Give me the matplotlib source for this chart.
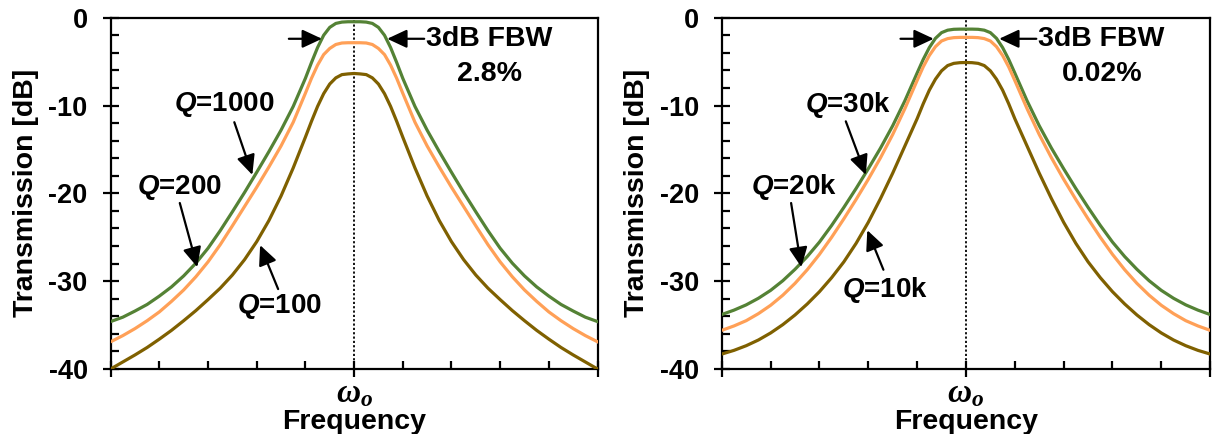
"""
Filter transmission for different resonator Q values.
"""
import matplotlib
matplotlib.use('Agg')
import matplotlib.pyplot as plt
from matplotlib.ticker import MultipleLocator

plt.rcParams['font.family'] = 'Liberation Sans'
plt.rcParams['font.weight'] = 'bold'
plt.rcParams['axes.labelweight'] = 'bold'
plt.rcParams['axes.unicode_minus'] = False
plt.rcParams['mathtext.fontset'] = 'custom'
plt.rcParams['mathtext.it'] = 'Liberation Serif:italic:bold'
plt.rcParams['mathtext.rm'] = 'Liberation Serif:bold'
plt.rcParams['mathtext.bfit'] = 'Liberation Sans:italic:bold'

# frequency offset from centre, in tick units (centre = omega_o)
freq = [-5, -4.75, -4.5, -4.25, -4, -3.75, -3.5, -3.25, -3, -2.75, -2.5,
        -2.25, -2, -1.75, -1.5, -1.25, -1, -0.875, -0.75, -0.625, -0.5,
        -0.375, -0.25, -0.125, 0, 0.125, 0.25, 0.375, 0.5, 0.625, 0.75,
        0.875, 1, 1.25, 1.5, 1.75, 2, 2.25, 2.5, 2.75, 3, 3.25, 3.5, 3.75,
        4, 4.25, 4.5, 4.75, 5]

# left panel, 3dB FBW 2.8 %
left_q1000 = [-34.6, -34.1, -33.4, -32.65, -31.7, -30.65, -29.4, -27.95,
              -26.25, -24.25, -22.1, -19.9, -17.6, -15.25, -12.8, -10.1,
              -6.9, -5.1, -3.4, -2.0, -1.1, -0.65, -0.5, -0.46, -0.46,
              -0.46, -0.5, -0.65, -1.1, -2.0, -3.4, -5.1, -6.9, -10.1,
              -12.8, -15.25, -17.6, -19.9, -22.1, -24.25, -26.25, -27.95,
              -29.4, -30.65, -31.7, -32.65, -33.4, -34.1, -34.6]
left_q200 = [-36.9, -36.2, -35.4, -34.5, -33.5, -32.3, -31.0, -29.5, -27.8,
             -25.85, -23.7, -21.5, -19.3, -17.0, -14.6, -11.9, -8.6, -6.9,
             -5.4, -4.2, -3.5, -3.05, -2.88, -2.85, -2.85, -2.85, -2.88,
             -3.05, -3.5, -4.2, -5.4, -6.9, -8.6, -11.9, -14.6, -17.0,
             -19.3, -21.5, -23.7, -25.85, -27.8, -29.5, -31.0, -32.3,
             -33.5, -34.5, -35.4, -36.2, -36.9]
left_q100 = [-40.0, -39.2, -38.4, -37.55, -36.6, -35.6, -34.5, -33.35,
             -32.1, -30.8, -29.3, -27.55, -25.5, -23.1, -20.3, -17.1, -13.6,
             -11.8, -10.1, -8.65, -7.55, -6.85, -6.48, -6.4, -6.35, -6.4,
             -6.48, -6.85, -7.55, -8.65, -10.1, -11.8, -13.6, -17.1, -20.3,
             -23.1, -25.5, -27.55, -29.3, -30.8, -32.1, -33.35, -34.5,
             -35.6, -36.6, -37.55, -38.4, -39.2, -40.0]

# right panel, 3dB FBW 0.02 %
right_q30k = [-33.8, -33.3, -32.7, -31.95, -31.05, -29.95, -28.65, -27.2,
              -25.55, -23.65, -21.6, -19.45, -17.2, -14.85, -12.3, -9.45,
              -6.3, -4.75, -3.4, -2.35, -1.7, -1.42, -1.32, -1.3, -1.3,
              -1.3, -1.32, -1.42, -1.7, -2.35, -3.4, -4.75, -6.3, -9.45,
              -12.3, -14.85, -17.2, -19.45, -21.6, -23.65, -25.55, -27.2,
              -28.65, -29.95, -31.05, -31.95, -32.7, -33.3, -33.8]
right_q20k = [-35.6, -35.1, -34.5, -33.7, -32.75, -31.6, -30.25, -28.7,
              -26.95, -25.0, -22.9, -20.7, -18.4, -15.95, -13.3, -10.35,
              -7.15, -5.6, -4.3, -3.3, -2.65, -2.38, -2.27, -2.24, -2.24,
              -2.24, -2.27, -2.38, -2.65, -3.3, -4.3, -5.6, -7.15, -10.35,
              -13.3, -15.95, -18.4, -20.7, -22.9, -25.0, -26.95, -28.7,
              -30.25, -31.6, -32.75, -33.7, -34.5, -35.1, -35.6]
right_q10k = [-38.3, -37.88, -37.35, -36.7, -35.9, -34.95, -33.85, -32.6,
              -31.2, -29.6, -27.8, -25.7, -23.3, -20.6, -17.7, -14.6, -11.5,
              -9.8, -8.25, -7.0, -6.05, -5.45, -5.2, -5.12, -5.1, -5.12,
              -5.2, -5.45, -6.05, -7.0, -8.25, -9.8, -11.5, -14.6, -17.7,
              -20.6, -23.3, -25.7, -27.8, -29.6, -31.2, -32.6, -33.85,
              -34.95, -35.9, -36.7, -37.35, -37.88, -38.3]

left_labels = ['1000', '200', '100']
right_labels = ['30k', '20k', '10k']
colours = ['#548235', '#FFA057', '#7F6000']


def draw_panel(ax, curves, labels, label_pos, fbw):
    """
    Draws one transmission panel with Q labels and the 3dB FBW marker.
    """
    for values, colour in zip(curves, colours):
        ax.plot(freq, values, color=colour, lw=2.3, zorder=3)

    ax.axvline(0, color='black', lw=1.3, ls=(0, (1.2, 1.2)), zorder=2)

    arrow = dict(arrowstyle='-|>,head_length=0.6,head_width=0.28',
                 color='black', lw=1.6, mutation_scale=20,
                 shrinkA=0, shrinkB=0)
    for label, (text_xy, start, tip) in zip(labels, label_pos):
        ax.text(*text_xy, r'$\mathbfit{Q}$=' + label, fontsize=20,
                ha='center', va='center')
        ax.annotate('', xy=tip, xytext=start, arrowprops=arrow)

    ax.annotate('', xy=(-0.66, -2.4), xytext=(-1.34, -2.4), arrowprops=arrow)
    ax.annotate('', xy=(0.68, -2.4), xytext=(1.44, -2.4), arrowprops=arrow)
    ax.text(2.77, -2.4, '3dB FBW', fontsize=20.5, ha='center', va='center')
    ax.text(2.79, -6.4, fbw, fontsize=20.5, ha='center', va='center')

    ax.set_xlim(-5, 5)
    ax.set_ylim(-40, 0)
    ax.set_xticks([-5, 0, 5])
    ax.set_xticklabels(['', r'$\omega_o$', ''])
    ax.xaxis.set_minor_locator(MultipleLocator(1))
    ax.set_yticks([-40, -30, -20, -10, 0])
    ax.yaxis.set_minor_locator(MultipleLocator(2))
    ax.tick_params(axis='both', which='major', direction='inout',
                   length=11, width=1.6)
    ax.tick_params(axis='x', which='major', pad=1, labelsize=24)
    ax.tick_params(axis='y', which='major', pad=11, labelsize=19.5)
    ax.tick_params(axis='both', which='minor', direction='in',
                   length=6, width=1.6)
    for spine in ax.spines.values():
        spine.set_linewidth(1.6)

    ax.set_xlabel('Frequency', fontsize=20.5, labelpad=0)
    ax.set_ylabel('Transmission [dB]', fontsize=20.5)
    ax.yaxis.set_label_coords(-0.147, 0.5)


fig = plt.figure(figsize=(12.12, 4.34), dpi=100)
ax_left = fig.add_axes([0.0913, 0.1498, 0.4017, 0.8094])
ax_right = fig.add_axes([0.5955, 0.1498, 0.4030, 0.8094])

draw_panel(ax_left, [left_q1000, left_q200, left_q100], left_labels,
           [((-2.66, -9.9), (-2.46, -11.9), (-2.09, -17.9)),
            ((-3.58, -19.3), (-3.58, -21.1), (-3.22, -28.4)),
            ((-1.54, -32.9), (-1.56, -30.9), (-1.93, -25.9))],
           '2.8%')
draw_panel(ax_right, [right_q30k, right_q20k, right_q10k], right_labels,
           [((-2.42, -9.9), (-2.46, -11.8), (-2.05, -17.9)),
            ((-3.52, -19.3), (-3.58, -21.1), (-3.37, -28.4)),
            ((-1.65, -31.0), (-1.69, -28.7), (-2.02, -24.2))],
           '0.02%')

fig.savefig('out.png', dpi=100)
